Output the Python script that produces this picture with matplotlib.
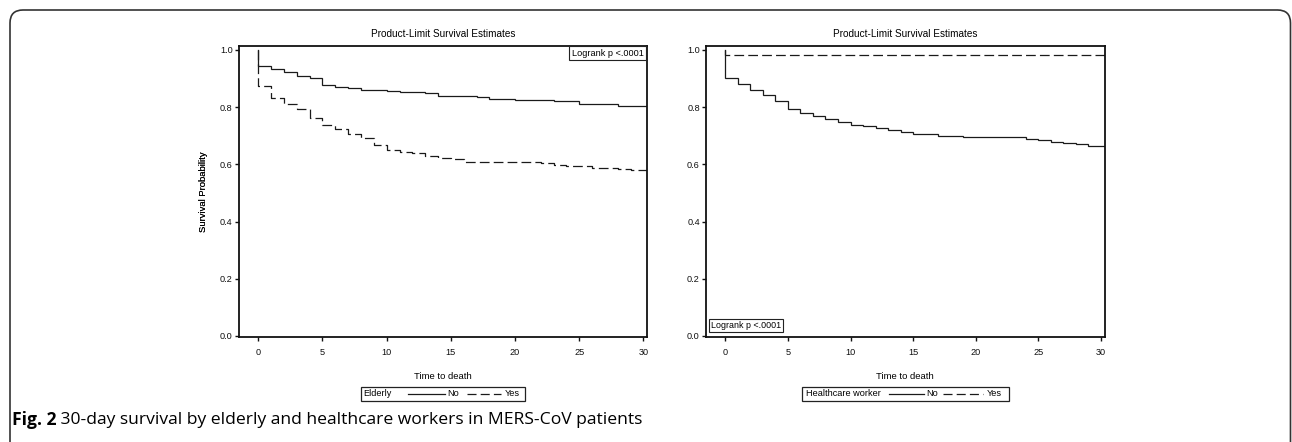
import matplotlib
matplotlib.use("Agg")
import matplotlib.pyplot as plt
from matplotlib.patches import FancyBboxPatch, Rectangle
from matplotlib.lines import Line2D

plt.rcParams['font.family'] = ['Liberation Sans', 'DejaVu Sans']
plt.rcParams['lines.scale_dashes'] = False

# ---------------- data ----------------
panel_titles = ["Product-Limit Survival Estimates", "Product-Limit Survival Estimates"]
x_label = "Time to death"
y_label = "Survival Probability"
x_ticks = [0, 5, 10, 15, 20, 25, 30]
y_ticks = [0.0, 0.2, 0.4, 0.6, 0.8, 1.0]
y_tick_labels = ["0.0", "0.2", "0.4", "0.6", "0.8", "1.0"]
logrank_text = "Logrank p <.0001"
legend_groups = ["Elderly", "Healthcare worker"]
legend_levels = ["No", "Yes"]

# Elderly = No (solid)
eld_no_t = [0, 1, 2, 3, 4, 5, 6, 7, 8, 10, 11, 13, 14, 17, 18, 20, 23, 24, 25, 26, 28]
eld_no_s = [0.944, 0.935, 0.922, 0.909, 0.901, 0.879, 0.871, 0.866, 0.861, 0.858, 0.854,
            0.849, 0.839, 0.834, 0.830, 0.825, 0.822, 0.820, 0.812, 0.810, 0.805]
# Elderly = Yes (dashed)
eld_yes_t = [0, 1, 2, 3, 4, 5, 6, 7, 8, 9, 10, 11, 12, 13, 14, 15, 16, 22, 23, 24, 26, 28, 29]
eld_yes_s = [0.874, 0.832, 0.812, 0.793, 0.761, 0.739, 0.724, 0.705, 0.692, 0.669, 0.650,
             0.645, 0.639, 0.630, 0.623, 0.618, 0.608, 0.604, 0.598, 0.593, 0.589, 0.585, 0.579]
# Healthcare worker = No (solid)
hcw_no_t = [0, 1, 2, 3, 4, 5, 6, 7, 8, 9, 10, 11, 12, 13, 14, 15, 16, 17, 19, 21, 24, 25,
            26, 27, 28, 29]
hcw_no_s = [0.903, 0.880, 0.860, 0.842, 0.822, 0.795, 0.781, 0.768, 0.759, 0.748, 0.738,
            0.734, 0.728, 0.721, 0.712, 0.708, 0.705, 0.701, 0.697, 0.695, 0.689, 0.685,
            0.678, 0.674, 0.671, 0.666]
# Healthcare worker = Yes (dashed)
hcw_yes_t = [0]
hcw_yes_s = [0.984]

caption_bold = "Fig. 2"
caption_rest = " 30-day survival by elderly and healthcare workers in MERS-CoV patients"

# ---------------- figure ----------------
W, H = 1292, 442
fig = plt.figure(figsize=(W / 100, H / 100), dpi=100)

def fx(px):
    return px / W

def fy(py):
    return 1 - py / H

LINE_COL = "#1a1a1a"
DASH = (0, (7.0, 3.0))

axes_px = [(239, 646.7, (-1.50, 30.25)), (706, 1104.7, (-1.54, 30.30))]
top_px, bot_px = 45.7, 337

curves = [((eld_no_t, eld_no_s), (eld_yes_t, eld_yes_s)),
          ((hcw_no_t, hcw_no_s), (hcw_yes_t, hcw_yes_s))]

axes = []
for i, (l, r, xl) in enumerate(axes_px):
    ax = fig.add_axes([fx(l), fy(bot_px), (r - l) / W, (bot_px - top_px) / H])
    axes.append(ax)
    ax.set_xlim(*xl)
    ax.set_ylim(-0.0035, 1.015)
    for sp in ax.spines.values():
        sp.set_linewidth(1.3)
        sp.set_color("#111111")
    ax.set_xticks(x_ticks)
    ax.set_xticklabels([str(t) for t in x_ticks])
    ax.set_yticks(y_ticks)
    ax.set_yticklabels(y_tick_labels)
    ax.tick_params(axis='both', direction='out', length=3, width=1.0, labelsize=6.6,
                   colors="#111111")
    ax.tick_params(axis='x', pad=5)
    ax.tick_params(axis='y', pad=1.5)
    ax.set_title(panel_titles[i], fontsize=7.2, pad=6.5)
    ax.set_xlabel(x_label, fontsize=6.8)
    ax.set_ylabel(y_label, fontsize=6.8)
    ax.xaxis.set_label_coords(0.5, -0.119)
    ax.yaxis.set_label_coords((207.5 - l) / (r - l), 0.5)

    (t_no, s_no), (t_yes, s_yes) = curves[i]
    end = xl[1] + 0.5
    ax.plot([0] + t_no + [end], [1.0] + s_no + [s_no[-1]], drawstyle='steps-post',
            color=LINE_COL, lw=0.9, solid_joinstyle='miter')
    ax.plot([0] + t_yes + [end], [1.0] + s_yes + [s_yes[-1]], drawstyle='steps-post',
            color=LINE_COL, lw=0.9, linestyle=DASH)

# Logrank boxes
axes[0].text(0.9925, 0.990, logrank_text, transform=axes[0].transAxes, ha='right', va='top',
             fontsize=6.6, bbox=dict(boxstyle='square,pad=0.3', fc='white', ec='#222222', lw=0.8))
axes[1].text(0.0125, 0.024, logrank_text, transform=axes[1].transAxes, ha='left', va='bottom',
             fontsize=6.4, bbox=dict(boxstyle='square,pad=0.25', fc='white', ec='#222222', lw=0.8))

# Legends (drawn below each panel)
legend_specs = [
    dict(box=(361, 386.5, 525, 401), name_x=363.5, solid=(408, 445), no_x=447.5,
         dash=(467, 501), yes_x=505),
    dict(box=(802.5, 386.5, 1008.5, 401), name_x=806.5, solid=(889, 923.5), no_x=926,
         dash=(943, 983), yes_x=986.5),
]
for g, spec in zip(legend_groups, legend_specs):
    x0, y0, x1, y1 = spec['box']
    fig.patches.append(Rectangle((fx(x0), fy(y1)), (x1 - x0) / W, (y1 - y0) / H,
                                 transform=fig.transFigure, fill=False, ec='#222222', lw=0.9))
    yc = fy((y0 + y1) / 2)
    fig.text(fx(spec['name_x']), yc, g, fontsize=6.6, ha='left', va='center')
    fig.lines.append(Line2D([fx(spec['solid'][0]), fx(spec['solid'][1])], [yc, yc],
                            transform=fig.transFigure, color=LINE_COL, lw=0.9))
    fig.text(fx(spec['no_x']), yc, legend_levels[0], fontsize=6.6, ha='left', va='center')
    fig.lines.append(Line2D([fx(spec['dash'][0]), fx(spec['dash'][1])], [yc, yc],
                            transform=fig.transFigure, color=LINE_COL, lw=0.9,
                            linestyle=(0, (6.5, 3.0))))
    fig.text(fx(spec['yes_x']), yc, legend_levels[1], fontsize=6.6, ha='left', va='center')

# Caption
cap_size = 12.6
t1 = fig.text(fx(12), fy(420), caption_bold, fontsize=cap_size, fontweight='bold',
              family=['Open Sans', 'DejaVu Sans'], ha='left', va='center')
fig.canvas.draw()
bb = t1.get_window_extent()
fig.text(bb.x1 / W, fy(420), caption_rest, fontsize=cap_size,
         family=['Open Sans', 'DejaVu Sans'], ha='left', va='center')

# Rounded outer frame (open at the bottom) in inches
fig.patches.append(FancyBboxPatch((0.10, -0.40), 12.805, (442 - 10) / 100 + 0.40,
                                  boxstyle='round,pad=0,rounding_size=0.13',
                                  transform=fig.dpi_scale_trans, fill=False, ec='#333333',
                                  lw=1.2))

fig.savefig("out.png", dpi=100)
